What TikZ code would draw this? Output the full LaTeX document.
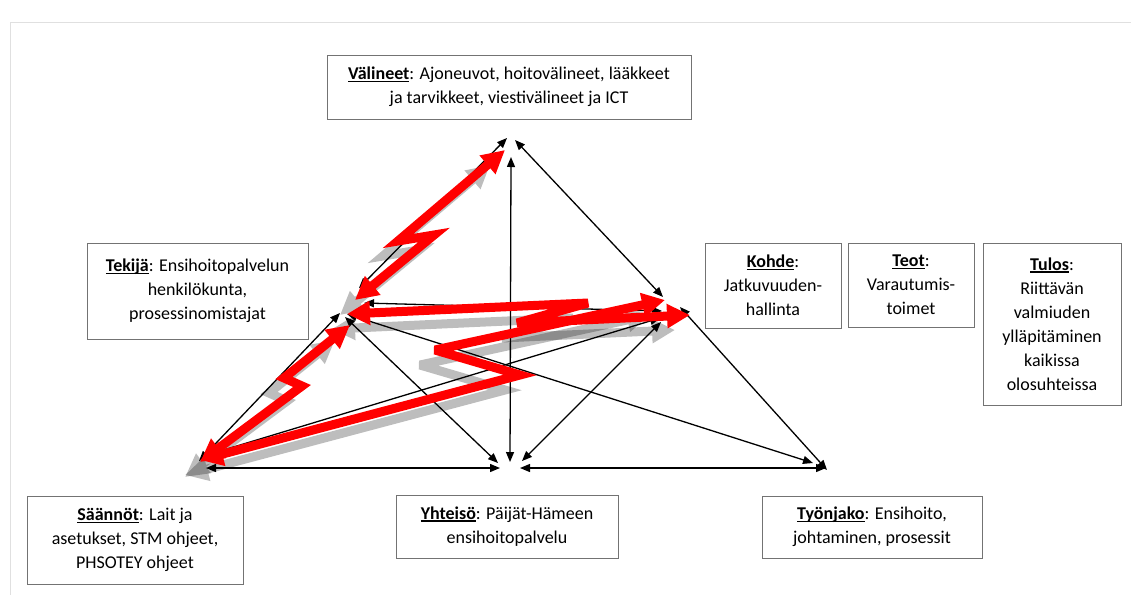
\documentclass[tikz,border=0pt]{standalone}
\usepackage{fontspec}
\setmainfont{Carlito}
\usetikzlibrary{arrows.meta}
% bold, underlined heading word inside a box
\newsavebox\termlabelbox
\newcommand\termlabel[1]{\sbox\termlabelbox{\textbf{#1}}\rlap{\rule[-2.4pt]{\wd\termlabelbox}{1.3pt}}\usebox\termlabelbox}

\begin{document}
\begin{tikzpicture}[x=1pt,y=-1pt,
  box/.style={draw=black!55, line width=0.9pt, align=center, inner sep=0pt,
              font=\fontsize{18}{24}\selectfont},
  link/.style={line width=1.3pt,
              {Triangle[length=10pt,width=8pt]}-{Triangle[length=10pt,width=8pt]}},
  bolt/.style={line width=9pt, line join=miter, miter limit=4,
              {Triangle[length=23pt,width=23pt]}-{Triangle[length=23pt,width=23pt]}},
  boltshadow/.style={transparency group, opacity=0.26,
              transform canvas={xshift=-15pt,yshift=-15pt}}
]
\useasboundingbox (0,0) rectangle (1131,595);
\fill[white] (0,0) rectangle (1131,595);
% page edge
\draw[black!12, line width=1pt] (10,595) -- (10,22) -- (1131,22);

% ---------- boxes ----------
\node[box, minimum width=364pt, minimum height=64pt] (tools) at (509,87)
  {\termlabel{Välineet}: Ajoneuvot, hoitovälineet, lääkkeet\\ja tarvikkeet, viestivälineet ja ICT};
\node[box, minimum width=221pt, minimum height=96pt] (subject) at (197.5,291)
  {\termlabel{Tekijä}: Ensihoitopalvelun\\henkilökunta,\\prosessinomistajat};
\node[box, minimum width=136pt, minimum height=85pt] (object) at (773,285.5)
  {\termlabel{Kohde}:\\Jatkuvuuden-\\hallinta};
\node[box, minimum width=126pt, minimum height=84pt] (actions) at (911,285)
  {\termlabel{Teot}:\\Varautumis-\\toimet};
\node[box, minimum width=138pt, minimum height=162pt] (outcome) at (1052,324)
  {\termlabel{Tulos}:\\Riittävän\\valmiuden\\ylläpitäminen\\kaikissa\\olosuhteissa};
\node[box, minimum width=216pt, minimum height=88pt] (rules) at (135,540)
  {\termlabel{Säännöt}: Lait ja\\asetukset, STM ohjeet,\\PHSOTEY ohjeet};
\node[box, minimum width=222pt, minimum height=63pt] (community) at (507,526.5)
  {\termlabel{Yhteisö}: Päijät-Hämeen\\ensihoitopalvelu};
\node[box, minimum width=220pt, minimum height=62pt] (division) at (872,527)
  {\termlabel{Työnjako}: Ensihoito,\\johtaminen, prosessit};

% ---------- end points of the triangle links ----------
% T = tools, S = subject, O = object, R = rules, C = community, D = division
\coordinate (ts) at (507,138);  \coordinate (st) at (359,288);
\coordinate (to) at (515,140);  \coordinate (ot) at (663,297);
\coordinate (tc) at (511,157);  \coordinate (ct) at (510,462);
\coordinate (so) at (364,303);  \coordinate (os) at (662,311);
\coordinate (sr) at (340,313);  \coordinate (rs) at (199,461);
\coordinate (sc) at (345,317);  \coordinate (cs) at (498,463);
\coordinate (sd) at (347,314);  \coordinate (ds) at (813,463);
\coordinate (rc) at (206,468);  \coordinate (cr) at (500,468);
\coordinate (ro) at (207,455);  \coordinate (or) at (660,318);
\coordinate (cd) at (520,468);  \coordinate (dc) at (826,468);
\coordinate (co) at (522,461);  \coordinate (oc) at (661,322);
\coordinate (od) at (680,307);  \coordinate (do) at (827,470);

\draw[link] (ts) -- (st);
\draw[link] (to) -- (ot);
\draw[link] (tc) -- (ct);
\draw[link] (so) -- (os);
\draw[link] (sr) -- (rs);
\draw[link] (sc) -- (cs);
\draw[link] (sd) -- (ds);
\draw[link] (rc) -- (cr);
\draw[link] (ro) -- (or);
\draw[link] (cd) -- (dc);
\draw[link] (co) -- (oc);
\draw[link] (od) -- (do);

% ---------- zigzag arrows ----------
\coordinate (a1) at (505,150); \coordinate (a2) at (398,241);
\coordinate (a3) at (434,235); \coordinate (a4) at (355,300);
\coordinate (b1) at (350,325); \coordinate (b2) at (284,378);
\coordinate (b3) at (302,386); \coordinate (b4) at (200,462);
\coordinate (c1) at (200,460); \coordinate (c2) at (520,375);
\coordinate (c3) at (435,350); \coordinate (c4) at (665,300);
\coordinate (d1) at (347,314); \coordinate (d2) at (588,303);
\coordinate (d3) at (517,323); \coordinate (d4) at (690,315);

% shadows
\begin{scope}[boltshadow]
  \draw[bolt, black] (a1) -- (a2) -- (a3) -- (a4);
\end{scope}
\begin{scope}[boltshadow]
  \draw[bolt, black] (b1) -- (b2) -- (b3) -- (b4);
\end{scope}
\begin{scope}[boltshadow]
  \draw[bolt, black] (c1) -- (c2) -- (c3) -- (c4);
\end{scope}
\begin{scope}[boltshadow]
  \draw[bolt, black] (d1) -- (d2) -- (d3) -- (d4);
\end{scope}

% red arrows
\draw[bolt, red] (a1) -- (a2) -- (a3) -- (a4);
\draw[bolt, red] (b1) -- (b2) -- (b3) -- (b4);
\draw[bolt, red] (c1) -- (c2) -- (c3) -- (c4);
\draw[bolt, red] (d1) -- (d2) -- (d3) -- (d4);
\end{tikzpicture}
\end{document}
